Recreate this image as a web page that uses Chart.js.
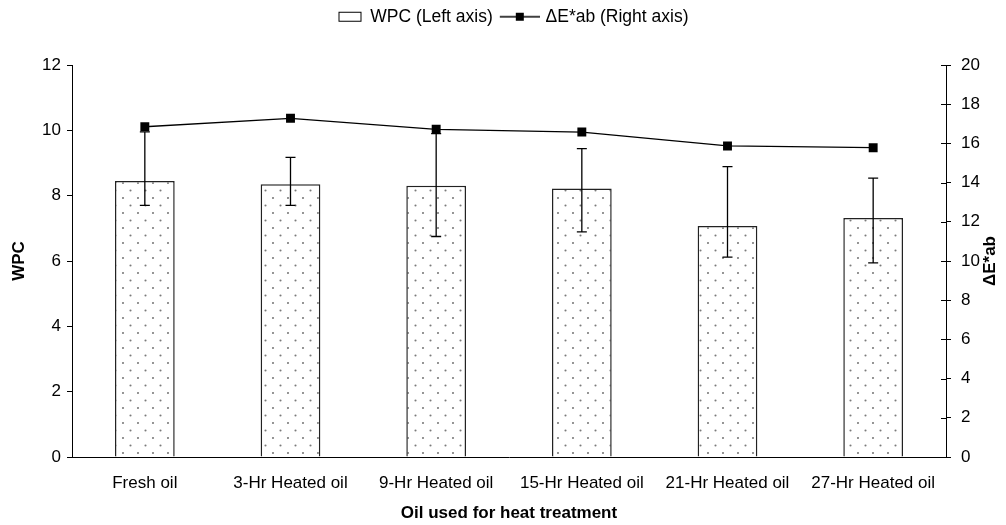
<!DOCTYPE html>
<html>
<head>
<meta charset="utf-8">
<script src="https://cdn.jsdelivr.net/npm/chart.js@4.4.1/dist/chart.umd.min.js"></script>
<style>
  html, body { margin: 0; padding: 0; background: #fff; }
</style>
</head>
<body>
<canvas id="wpcChart" width="1006" height="525"></canvas>
<script>
// data
const oilLabels = ['Fresh oil', '3-Hr Heated oil', '9-Hr Heated oil', '15-Hr Heated oil', '21-Hr Heated oil', '27-Hr Heated oil'];
const wpcValues = [8.45, 8.35, 8.3, 8.22, 7.07, 7.32];
const wpcErrUp = [1.5, 0.82, 1.6, 1.22, 1.82, 1.22];
const wpcErrDown = [0.75, 0.65, 1.55, 1.33, 0.95, 1.38];
const deltaEValues = [16.85, 17.28, 16.72, 16.58, 15.87, 15.78];

const FONT = '"Liberation Sans", Arial, sans-serif';
Chart.defaults.font.family = FONT;
Chart.defaults.color = '#000';

// dotted fill like the Excel pattern
function dotPattern(ctx) {
  const c = document.createElement('canvas');
  c.width = 15; c.height = 15;
  const g = c.getContext('2d');
  g.fillStyle = '#fff';
  g.fillRect(0, 0, 15, 15);
  g.fillStyle = '#7a7a7a';
  g.beginPath(); g.arc(3, 3, 1.05, 0, Math.PI * 2); g.fill();
  g.beginPath(); g.arc(10.5, 10.5, 1.05, 0, Math.PI * 2); g.fill();
  return ctx.createPattern(c, 'repeat');
}

function barSymbol() {
  const c = document.createElement('canvas');
  c.width = 42; c.height = 12;
  const g = c.getContext('2d');
  g.fillStyle = '#fff';
  g.fillRect(16, 1.5, 22, 9);
  g.strokeStyle = '#000';
  g.lineWidth = 1;
  g.strokeRect(16.5, 1.5, 22, 9);
  return c;
}

function lineSymbol() {
  const c = document.createElement('canvas');
  c.width = 42; c.height = 12;
  const g = c.getContext('2d');
  g.strokeStyle = '#000';
  g.lineWidth = 1.3;
  g.beginPath(); g.moveTo(2, 6); g.lineTo(42, 6); g.stroke();
  g.fillStyle = '#000';
  g.fillRect(18, 2, 8, 8);
  return c;
}

const ctx = document.getElementById('wpcChart').getContext('2d');

const errorBars = {
  id: 'errorBars',
  afterDatasetDraw(chart, args) {
    if (args.index !== 0) return;
    const y = chart.scales.y;
    const c = chart.ctx;
    c.save();
    c.strokeStyle = '#000';
    c.lineWidth = 1.3;
    args.meta.data.forEach((bar, i) => {
      const top = y.getPixelForValue(wpcValues[i] + wpcErrUp[i]);
      const bot = y.getPixelForValue(wpcValues[i] - wpcErrDown[i]);
      c.beginPath();
      c.moveTo(bar.x, top); c.lineTo(bar.x, bot);
      c.moveTo(bar.x - 5, top); c.lineTo(bar.x + 5, top);
      c.moveTo(bar.x - 5, bot); c.lineTo(bar.x + 5, bot);
      c.stroke();
    });
    c.restore();
  }
};

const rightAxisExtras = {
  id: 'rightAxisExtras',
  beforeLayout(chart) {
    // legend box reaches down to the top of the plot, row nudged right
    const lg = chart.legend;
    if (lg && !lg._tall) {
      const fit = lg.fit;
      lg.fit = function () {
        fit.call(this);
        this.height = 65;
        if (this.lineWidths) this.lineWidths[0] -= 8;
      };
      lg._tall = true;
    }
  },
  afterDraw(chart) {
    const s = chart.scales.y1;
    const c = chart.ctx;
    c.save();
    c.strokeStyle = '#000';
    c.lineWidth = 1;
    c.beginPath();
    s.ticks.forEach((t, i) => {
      const py = Math.round(s.getPixelForTick(i)) + 0.5;
      c.moveTo(s.left - 5, py); c.lineTo(s.left, py);
    });
    c.stroke();
    const area = chart.chartArea;
    c.translate(990, (area.top + area.bottom) / 2);
    c.rotate(-Math.PI / 2);
    c.font = 'bold 17px ' + FONT;
    c.fillStyle = '#000';
    c.textAlign = 'center';
    c.textBaseline = 'middle';
    c.fillText('\u0394E*ab', 0, 0);
    c.restore();
  }
};

new Chart(ctx, {
  type: 'bar',
  data: {
    labels: oilLabels,
    datasets: [{
      label: 'WPC (Left axis)',
      data: wpcValues,
      yAxisID: 'y',
      backgroundColor: dotPattern(ctx),
      borderColor: '#222',
      borderWidth: 1.5,
      barPercentage: 0.41,
      categoryPercentage: 1.0,
      order: 1
    }, {
      type: 'line',
      label: '\u0394E*ab (Right axis)',
      data: deltaEValues,
      yAxisID: 'y1',
      borderColor: '#000',
      backgroundColor: '#000',
      borderWidth: 1.3,
      pointStyle: 'rect',
      pointRadius: 6.3,
      pointBorderWidth: 0,
      tension: 0,
      order: 0
    }]
  },
  options: {
    responsive: false,
    animation: false,
    devicePixelRatio: 1,
    layout: { padding: 0 },
    plugins: {
      tooltip: { enabled: false },
      legend: {
        position: 'top',
        labels: {
          usePointStyle: true,
          pointStyleWidth: 36,
          padding: 8,
          font: { size: 17.5 },
          color: '#000',
          generateLabels: () => [
            { text: 'WPC (Left axis)', pointStyle: barSymbol(), datasetIndex: 0, hidden: false, lineWidth: 0 },
            { text: '\u0394E*ab (Right axis)', pointStyle: lineSymbol(), datasetIndex: 1, hidden: false, lineWidth: 0 }
          ]
        }
      }
    },
    scales: {
      x: {
        offset: true,
        grid: { display: false },
        border: { color: '#000', width: 1 },
        ticks: { font: { size: 17 }, padding: 8, maxRotation: 0, autoSkip: false },
        title: { display: true, text: 'Oil used for heat treatment', font: { size: 17, weight: 'bold' }, padding: { top: 4, bottom: 1 } },
        afterFit(s) { s.height = 68; }
      },
      y: {
        position: 'left',
        min: 0, max: 12,
        ticks: { stepSize: 2, padding: 6, font: { size: 17 } },
        grid: { drawOnChartArea: false, tickLength: 5, color: '#000' },
        border: { color: '#000', width: 1 },
        title: { display: true, text: 'WPC', font: { size: 17, weight: 'bold' }, padding: { top: 9, bottom: 0 } },
        afterFit(s) { s.width = 72; }
      },
      y1: {
        position: 'right',
        min: 0, max: 20,
        ticks: { stepSize: 2, padding: 10, font: { size: 17 } },
        grid: { drawOnChartArea: false, tickLength: 5, color: '#000' },
        border: { color: '#000', width: 1 },
        afterFit(s) { s.width = 60; }
      }
    }
  },
  plugins: [errorBars, rightAxisExtras]
});
</script>
</body>
</html>
